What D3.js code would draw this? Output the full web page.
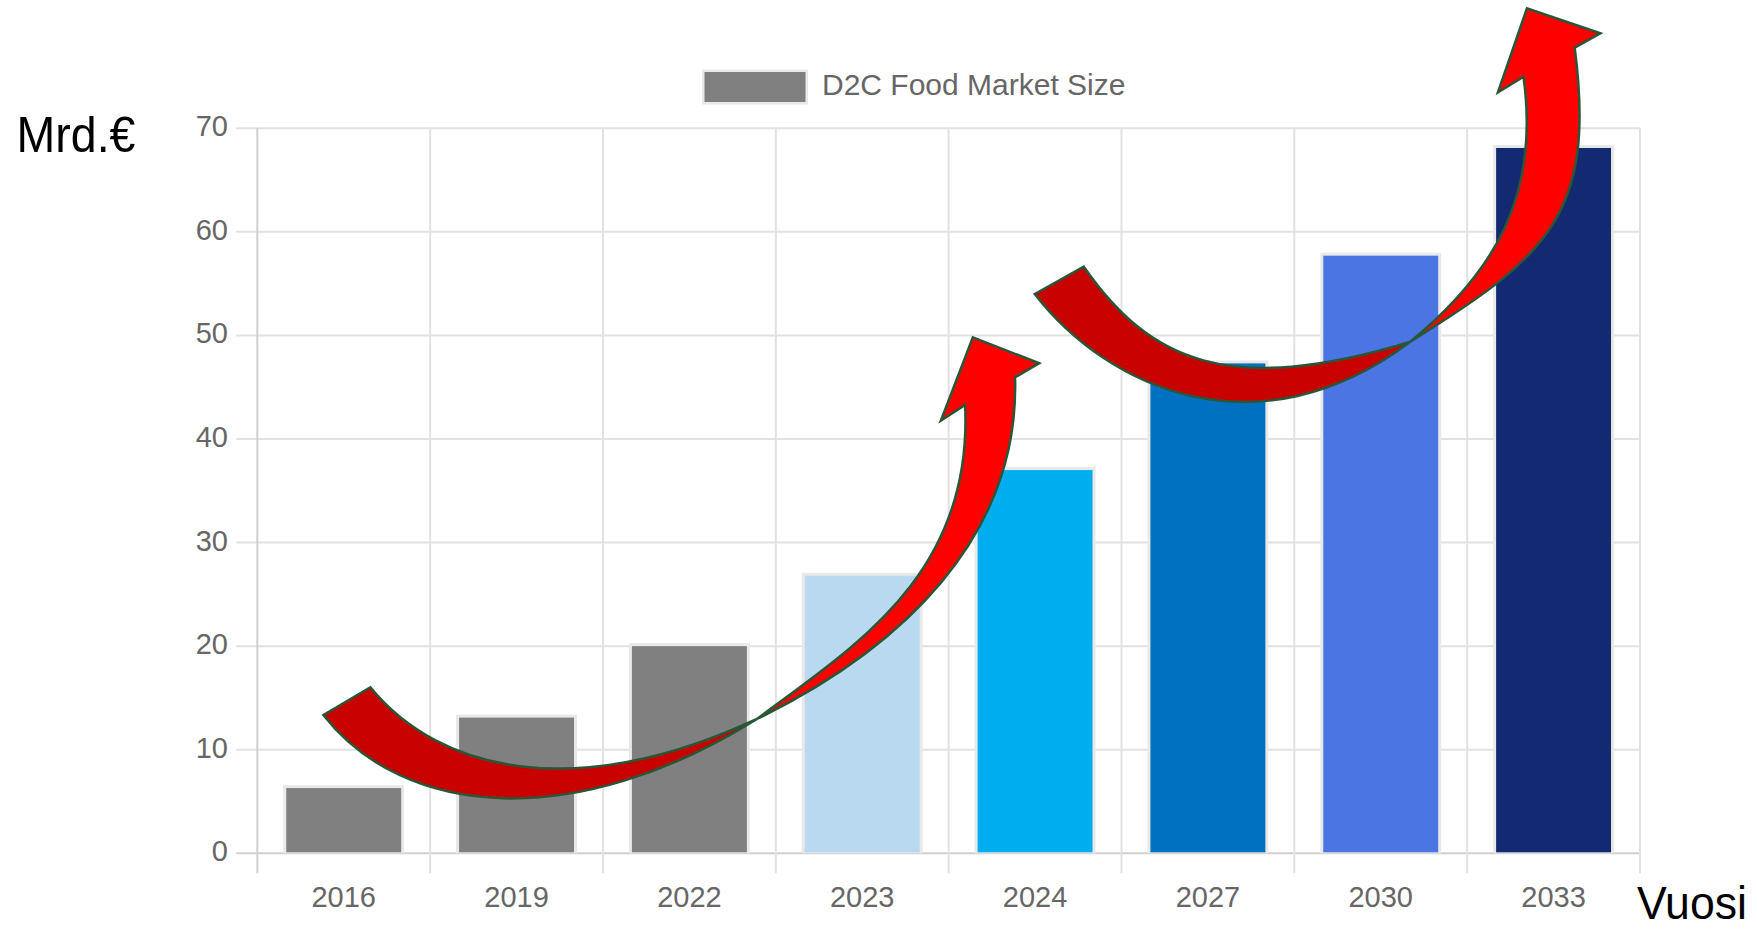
<!DOCTYPE html>
<html><head><meta charset="utf-8">
<script src="https://cdn.jsdelivr.net/npm/d3@7"></script>
<style>html,body{margin:0;padding:0;background:#fff;overflow:hidden}</style>
</head><body>
<svg id="c" width="1757" height="930"></svg>
<script>
// ---- data ----
const years = ["2016","2019","2022","2023","2024","2027","2030","2033"];
const values = [6.3, 13.1, 20.0, 26.8, 37.0, 47.3, 57.7, 68.1];
const barColors = ["#808080","#808080","#808080","#B8D9F0","#00AEEF","#0070C0","#4A75E3","#132A73"];
const yTicks = [0,10,20,30,40,50,60,70];
const seriesName = "D2C Food Market Size";
const yTitle = "Mrd.€";
const xTitle = "Vuosi";

// arrow annotations in data space [category position, value]
// each outline: start point, then segments; a segment of 3 points is a cubic curve, of 1 point a straight line
const arrow1Dark = [[0.382,13.35],
  [[0.848,3.44],[1.834,1.96],[2.891,12.97]],
  [[1.843,4.86],[1.055,7.85],[0.654,16.03]]];
const arrow1Bright = [[2.891,12.97],
  [[3.724,19.76],[4.412,30.54],[4.384,45.96]],
  [[4.524,47.31]], [[4.140,49.82]], [[3.955,41.77]], [[4.095,43.28]],
  [[4.144,26.87],[3.447,19.92],[2.891,12.97]]];
const arrow2Dark = [[4.498,54.00],
  [[4.922,44.85],[5.790,38.36],[6.669,49.37]],
  [[5.617,44.05],[5.162,47.53],[4.782,56.64]]];
const arrow2Bright = [[6.669,49.37],
  [[7.456,57.56],[7.749,61.53],[7.622,77.78]],
  [[7.771,79.17]], [[7.346,81.59]], [[7.178,73.46]], [[7.326,74.98]],
  [[7.421,63.51],[7.159,56.06],[6.669,49.37]]];

// ---- layout ----
const L = 257.3, R = 1640, T = 128.3, B = 853.3;
const svg = d3.select("#c");
const font = "'Liberation Sans', Arial, sans-serif";

const x = d3.scaleBand().domain(years).range([L, R]).paddingInner(0.335).paddingOuter(0.1675);
const xl = d3.scaleLinear().domain([0, years.length]).range([L, R]);
const y = d3.scaleLinear().domain([0, 70]).range([B, T]);

// grid: horizontal
svg.append("g").selectAll("line").data(yTicks).join("line")
  .attr("x1", L - 21).attr("x2", R)
  .attr("y1", d => y(d)).attr("y2", d => y(d))
  .attr("stroke", d => d === 0 ? "#d0d0d0" : "#e2e2e2").attr("stroke-width", 2);
// grid: vertical at category boundaries
const bounds = d3.range(years.length + 1);
svg.append("g").selectAll("line").data(bounds).join("line")
  .attr("x1", d => xl(d)).attr("x2", d => xl(d))
  .attr("y1", T).attr("y2", B + 20)
  .attr("stroke", d => d === 0 ? "#d0d0d0" : "#e2e2e2").attr("stroke-width", 2);

// y tick labels
svg.append("g").selectAll("text").data(yTicks).join("text")
  .attr("x", 228).attr("y", d => y(d) + 8)
  .attr("text-anchor", "end").attr("font-family", font).attr("font-size", 29)
  .attr("fill", "#666").text(d => d);

// x tick labels
svg.append("g").selectAll("text").data(years).join("text")
  .attr("x", d => x(d) + x.bandwidth() / 2).attr("y", 907)
  .attr("text-anchor", "middle").attr("font-family", font).attr("font-size", 29)
  .attr("fill", "#666").text(d => d);

// bars
const bars = svg.append("g");
bars.selectAll("rect.halo").data(years).join("rect").attr("class", "halo")
  .attr("x", d => x(d) - 3).attr("width", x.bandwidth() + 6)
  .attr("y", (d, i) => y(values[i]) - 3).attr("height", (d, i) => B - y(values[i]) + 3)
  .attr("fill", "#e9e9e9");
bars.selectAll("rect.bar").data(years).join("rect").attr("class", "bar")
  .attr("x", d => x(d)).attr("width", x.bandwidth())
  .attr("y", (d, i) => y(values[i])).attr("height", (d, i) => B - y(values[i]) - 1)
  .attr("fill", (d, i) => barColors[i]);

// legend
const lg = svg.append("g");
lg.append("rect").attr("x", 702).attr("y", 69.5).attr("width", 106).attr("height", 35).attr("fill", "#e9e9e9");
lg.append("rect").attr("x", 704.5).attr("y", 72).attr("width", 101).attr("height", 30).attr("fill", barColors[0]);
lg.append("text").attr("x", 822).attr("y", 95).attr("font-family", font).attr("font-size", 30)
  .attr("fill", "#666").text(seriesName);

// axis titles
svg.append("text").attr("x", 16.5).attr("y", 152).attr("font-family", font).attr("font-size", 50)
  .attr("textLength", 119).attr("lengthAdjust", "spacingAndGlyphs").attr("fill", "#000").text(yTitle);
svg.append("text").attr("x", 1637).attr("y", 919).attr("font-family", font).attr("font-size", 47)
  .attr("textLength", 110).attr("lengthAdjust", "spacingAndGlyphs").attr("fill", "#000").text(xTitle);

// arrows
function outline(spec) {
  const p = d3.path();
  const P = d => [xl(d[0]), y(d[1])];
  const s = P(spec[0]);
  p.moveTo(s[0], s[1]);
  spec.slice(1).forEach(seg => {
    if (seg.length === 3) {
      const [a, b, c] = seg.map(P);
      p.bezierCurveTo(a[0], a[1], b[0], b[1], c[0], c[1]);
    } else {
      const a = P(seg[0]);
      p.lineTo(a[0], a[1]);
    }
  });
  p.closePath();
  return p.toString();
}
const arrows = svg.append("g").attr("stroke", "#2A5638").attr("stroke-width", 2.5).attr("stroke-linejoin", "miter");
[[arrow1Dark, arrow1Bright], [arrow2Dark, arrow2Bright]].forEach(([dk, br]) => {
  arrows.append("path").attr("d", outline(dk)).attr("fill", "#C80000");
  arrows.append("path").attr("d", outline(br)).attr("fill", "#FF0000");
});
</script>
</body></html>
